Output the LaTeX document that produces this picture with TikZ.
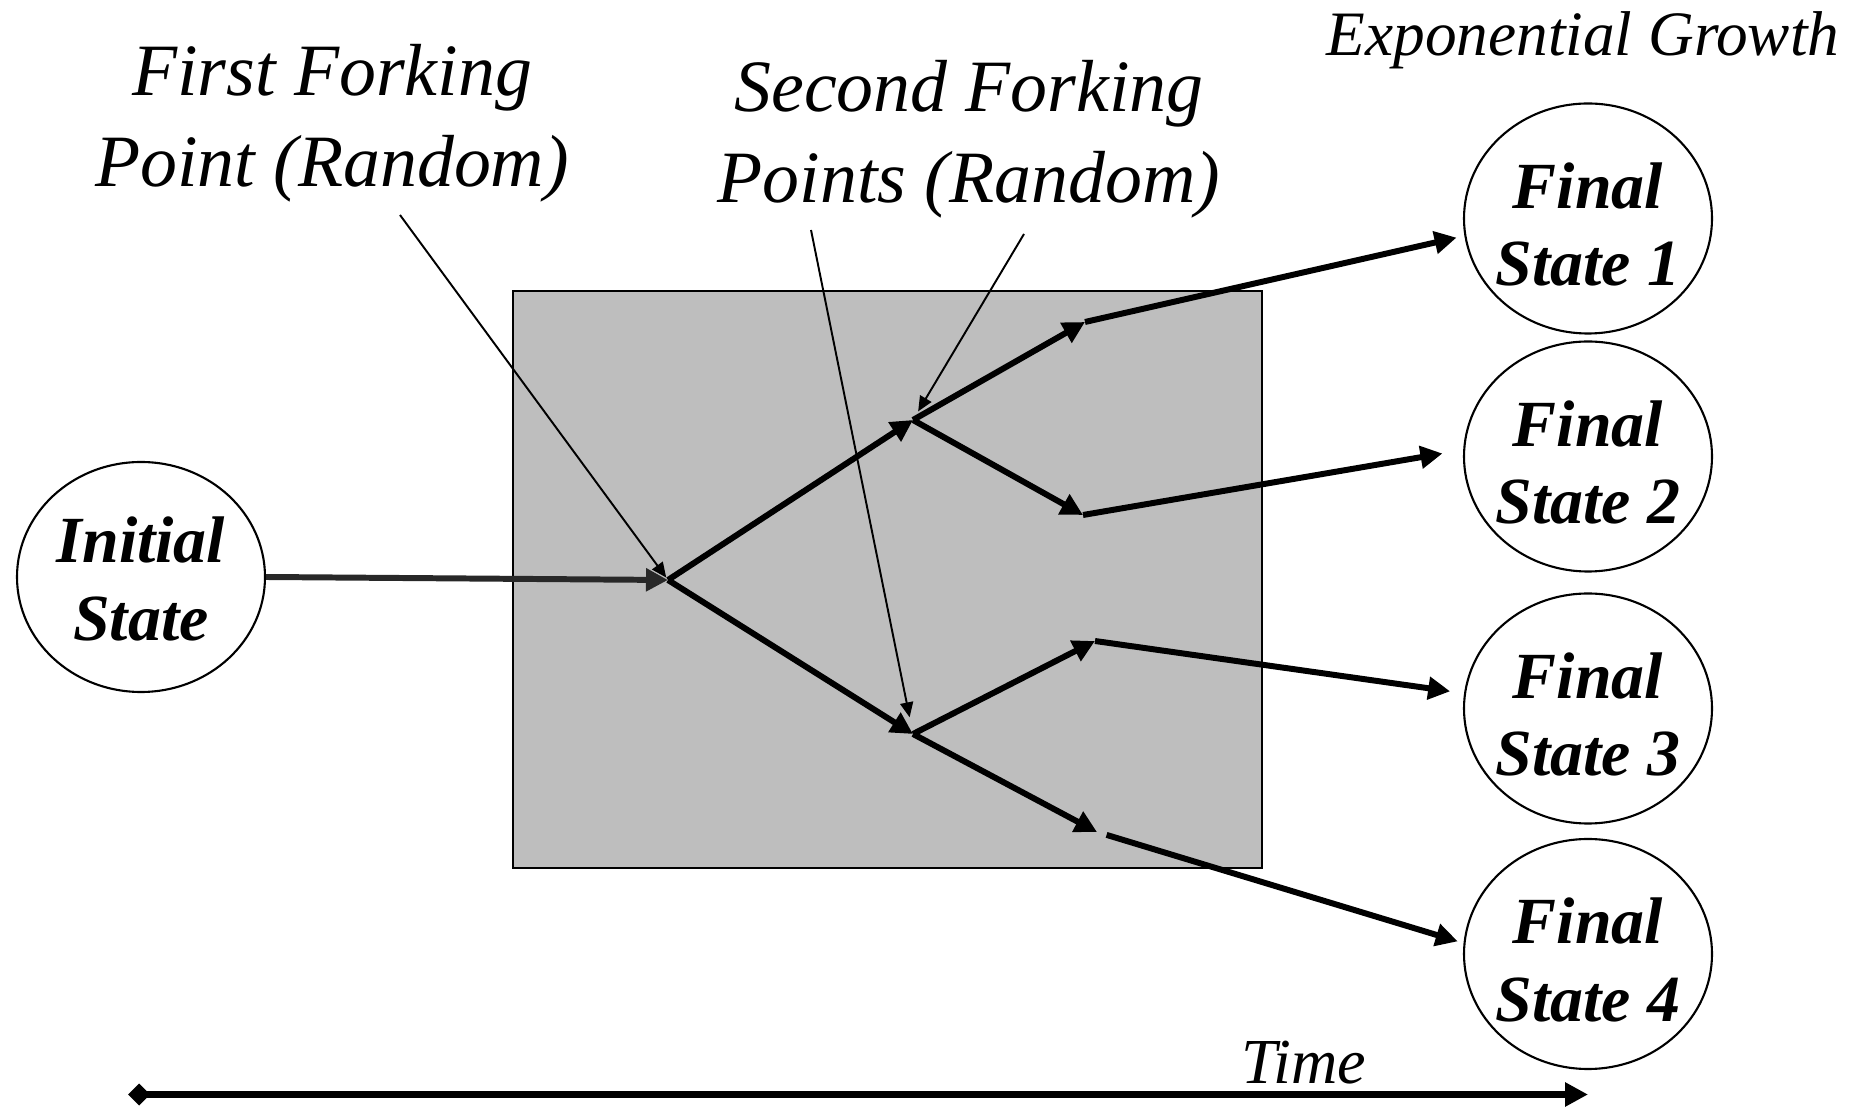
\documentclass[tikz,border=0pt]{standalone}
\usepackage{xcolor}
\usepackage{fontspec}
\setmainfont{Liberation Serif}
\usepackage{tikz}
\definecolor{grisboite}{RGB}{190,190,190}
\definecolor{grisfleche}{RGB}{40,40,40}
\usetikzlibrary{shapes.geometric,arrows.meta}

\begin{document}
\begin{tikzpicture}[
    etat/.style={draw, line width=1.2pt, ellipse, minimum width=4.96cm, minimum height=4.6cm},
    texteetat/.style={align=center, inner sep=0pt, font=\fontsize{37.5}{44}\selectfont\bfseries\itshape},
    grosse/.style={line width=3.4pt, -{Triangle[length=0.44cm,width=0.44cm]}},
    fine/.style={line width=1.1pt, -{Triangle[length=0.3cm,width=0.26cm]}},
    titre/.style={align=center, font=\fontsize{42}{52}\selectfont\itshape}]
        \useasboundingbox (0,0) rectangle (37.44,22.14);
        \fill[grisboite] (10.26,4.78) rectangle (25.24,16.32);
        \draw[line width=1.2pt] (10.26,4.78) rectangle (25.24,16.32);

        \node[etat, label={[texteetat, yshift=-0.04cm]center:{Initial\\State}}] (init) at (2.82,10.60) {};
        \node[etat, label={[texteetat, yshift=-0.12cm]center:{Final\\State 1}}] (fin1) at (31.76,17.77) {};
        \node[etat, label={[texteetat, yshift=-0.12cm]center:{Final\\State 2}}] (fin2) at (31.76,13.01) {};
        \node[etat, label={[texteetat, yshift=-0.12cm]center:{Final\\State 3}}] (fin3) at (31.76,7.97) {};
        \node[etat, label={[texteetat, yshift=-0.12cm]center:{Final\\State 4}}] (fin4) at (31.76,3.06) {};

        \node[titre] (premier) at (6.64,19.68) {First Forking\\Point (Random)};
        \node[titre] (second) at (19.38,19.36) {Second Forking\\Points (Random)};
        \node[anchor=base, font=\fontsize{36}{42}\selectfont\itshape] (croissance) at (31.66,21.02) {Exponential Growth};
        \node[anchor=base, font=\fontsize{36.5}{42}\selectfont\itshape] (temps) at (26.08,0.48) {Time};

        \coordinate (f1) at (13.36,10.54);
        \coordinate (f2h) at (18.26,13.74);
        \coordinate (f2b) at (18.26,7.46);
        \coordinate (f3a) at (21.70,15.70);
        \coordinate (f3b) at (21.66,11.84);
        \coordinate (f3c) at (21.90,9.32);
        \coordinate (f3d) at (21.94,5.50);
        \coordinate (p1) at (8.00,17.84);
        \coordinate (p2) at (16.22,17.54);
        \coordinate (p3) at (20.48,17.46);
        \coordinate (t0) at (2.56,0.25);
        \coordinate (t1) at (31.76,0.25);

        \draw[grosse, grisfleche] (init.east) -- (f1);
        \draw[grosse] (f1) -- (f2h);
        \draw[grosse] (f1) -- (f2b);
        \draw[grosse] (f2h) -- (f3a);
        \draw[grosse] (f2h) -- (f3b);
        \draw[grosse] (f2b) -- (f3c);
        \draw[grosse] (f2b) -- (f3d);
        \draw[grosse, shorten >=0.16cm] (f3a) -- (fin1.188);
        \draw[grosse, shorten >=0.42cm] (f3b) -- (fin2.177);
        \draw[grosse, shorten >=0.28cm] (f3c) -- (fin3.173);
        \draw[grosse, shorten <=0.2cm, shorten >=0.12cm] (f3d) -- (fin4.175);

        \draw[fine, shorten >=0.06cm] (p1) -- (f1);
        \draw[fine, shorten >=0.34cm] (p2) -- (f2b);
        \draw[fine, shorten >=0.2cm] (p3) -- (f2h);

        \draw[line width=4pt, {Diamond[length=0.44cm,width=0.44cm]}-{Triangle[length=0.46cm,width=0.46cm]}] (t0) -- (t1);
      \end{tikzpicture}
\end{document}
